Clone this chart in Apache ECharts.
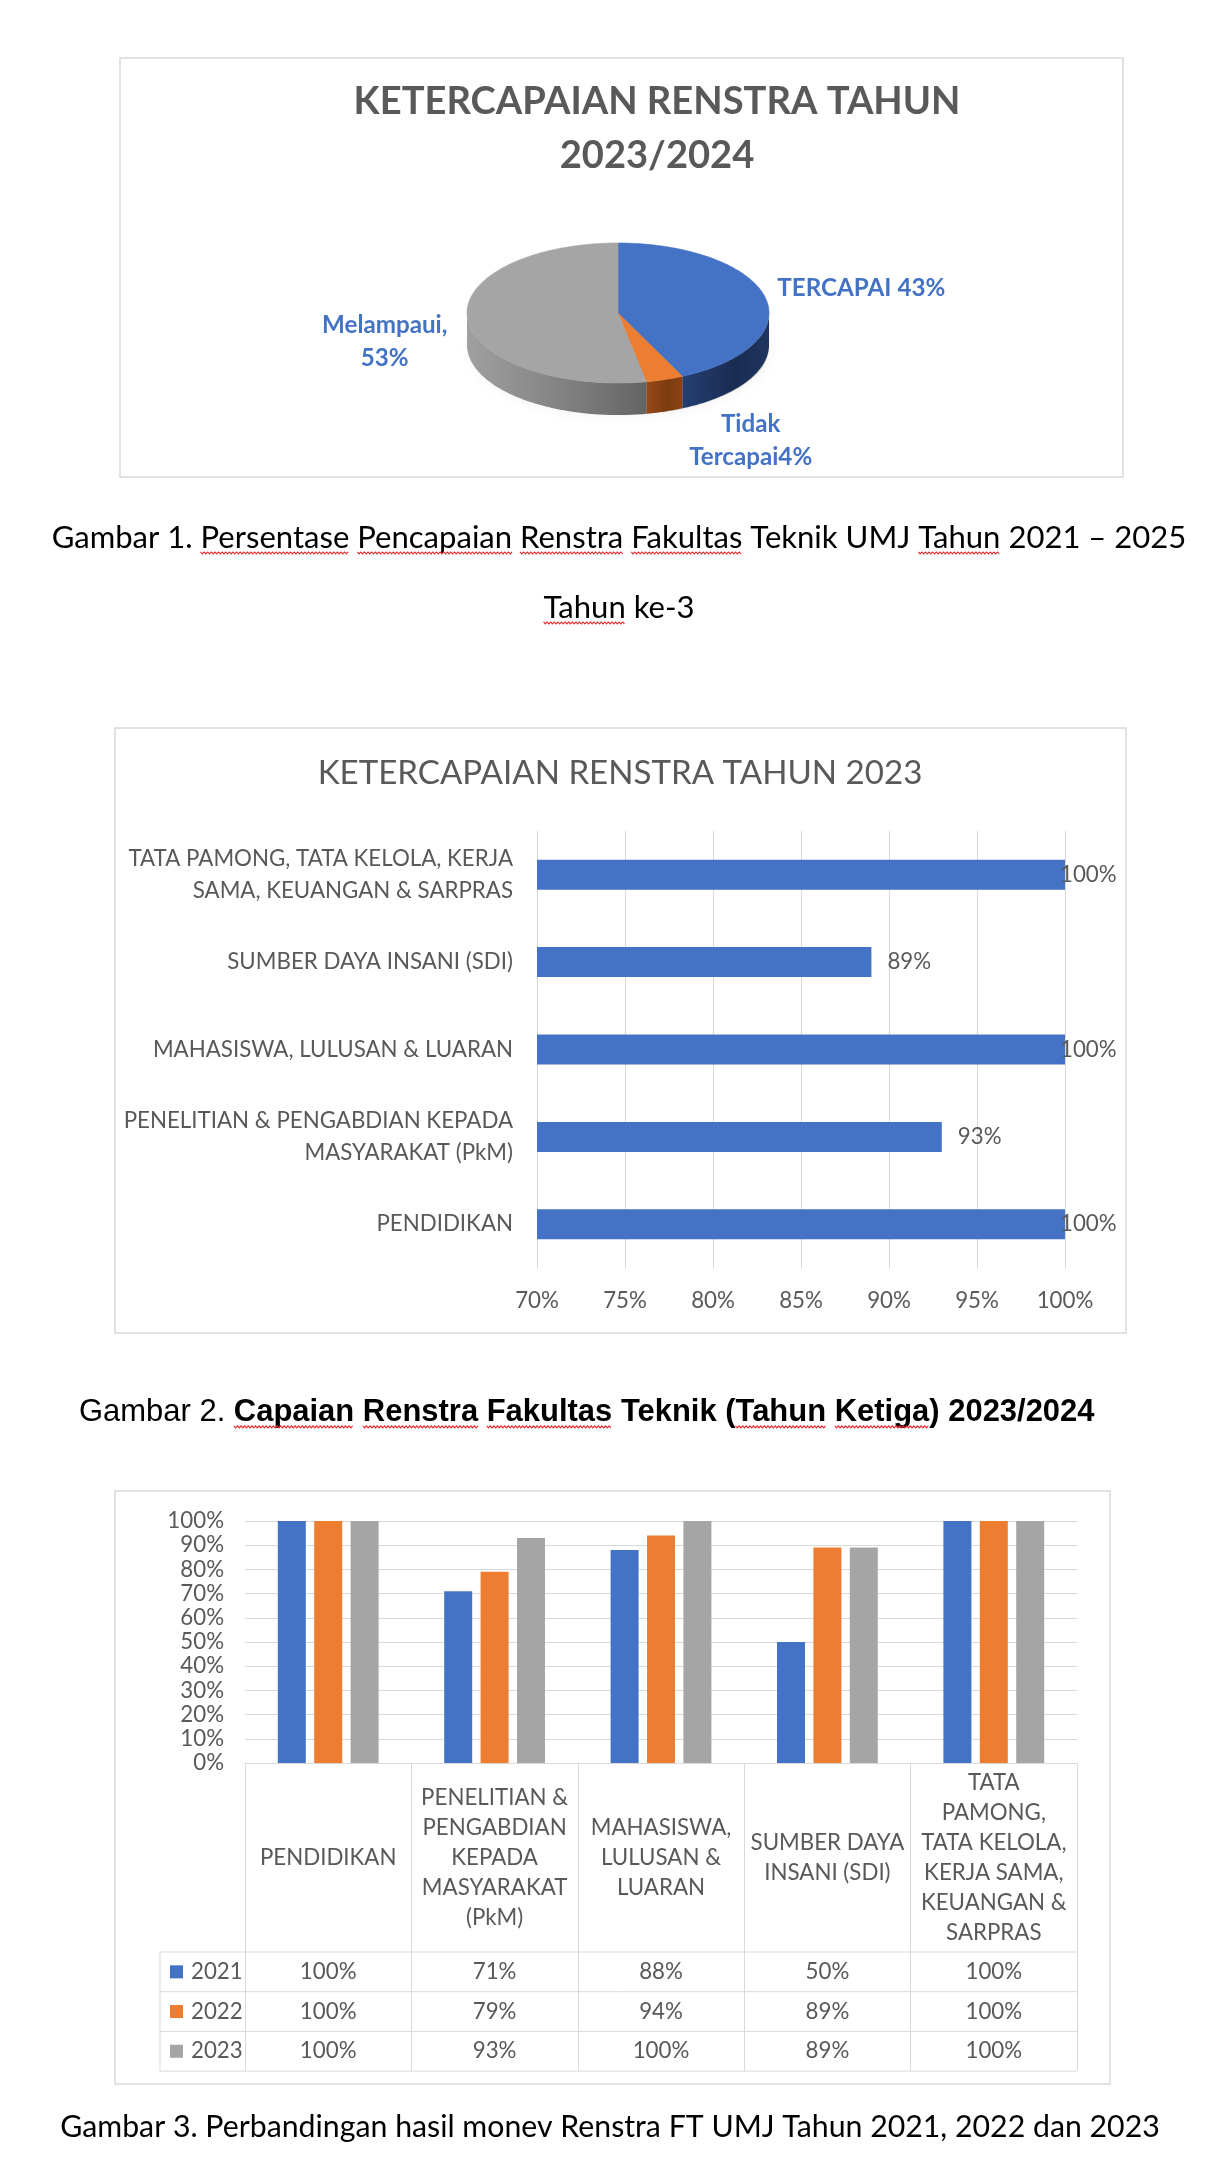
<!DOCTYPE html>
<html><head><meta charset="utf-8">
<script src="https://cdn.jsdelivr.net/npm/echarts@6.0.0/dist/echarts.min.js"></script>
<style>html,body{margin:0;padding:0;background:#fff}#c{width:1230px;height:2173px}</style>
</head><body><div id="c"></div>
<script>
// ---------------- DATA ----------------
const pieNames = ['TERCAPAI', 'Tidak Tercapai', 'Melampaui'];
const pieLabelNames = ['TERCAPAI', 'Tidak\nTercapai', 'Melampaui'];
const pieSep = [' ', '', ',\n'];
const pieValues = [43, 4, 53];

const categories = ['PENDIDIKAN', 'PENELITIAN & PENGABDIAN KEPADA MASYARAKAT (PkM)', 'MAHASISWA, LULUSAN & LUARAN', 'SUMBER DAYA INSANI (SDI)', 'TATA PAMONG, TATA KELOLA, KERJA SAMA, KEUANGAN & SARPRAS'];
const barCatLabels = ['PENDIDIKAN', 'PENELITIAN & PENGABDIAN KEPADA\nMASYARAKAT (PkM)', 'MAHASISWA, LULUSAN & LUARAN', 'SUMBER DAYA INSANI (SDI)', 'TATA PAMONG, TATA KELOLA, KERJA\nSAMA, KEUANGAN & SARPRAS'];
const tableCatLabels = ['PENDIDIKAN', 'PENELITIAN &\nPENGABDIAN\nKEPADA\nMASYARAKAT\n(PkM)', 'MAHASISWA,\nLULUSAN &\nLUARAN', 'SUMBER DAYA\nINSANI (SDI)', 'TATA\nPAMONG,\nTATA KELOLA,\nKERJA SAMA,\nKEUANGAN &\nSARPRAS'];
const years = ['2021', '2022', '2023'];
const values2021 = [100, 71, 88, 50, 100];
const values2022 = [100, 79, 94, 89, 100];
const values2023 = [100, 93, 100, 89, 100];
const barAxisMin = 70, barAxisMax = 100, barAxisStep = 5;
const colAxisMin = 0, colAxisMax = 100, colAxisStep = 10;

const title1 = 'KETERCAPAIAN RENSTRA TAHUN\n2023/2024';
const title2 = 'KETERCAPAIAN RENSTRA TAHUN 2023';
const caption1a = 'Gambar 1. Persentase Pencapaian Renstra Fakultas Teknik UMJ Tahun 2021 \u2013 2025';
const caption1b = 'Tahun ke-3';
const caption2a = 'Gambar 2. ';
const caption2b = 'Capaian Renstra Fakultas Teknik (Tahun Ketiga) 2023/2024';
const caption3 = 'Gambar 3. Perbandingan hasil monev Renstra FT UMJ Tahun 2021, 2022 dan 2023';

// ---------------- STYLE ----------------
const FONT = 'Lato';
const C_BLUE = '#4472C4', C_ORANGE = '#ED7D31', C_GRAY = '#A5A5A5';
const TXT = '#595959', LINE = '#d9d9d9';
const seriesColors = [C_BLUE, C_ORANGE, C_GRAY];

const mctx = document.createElement('canvas').getContext('2d');
function textW(t, size, fam, w) { mctx.font = (w || 'normal') + ' ' + size + 'px ' + fam; return mctx.measureText(t).width; }
function fit(t, target, fam, w) { return 100 * target / textW(t, 100, fam, w); }

const S_T1 = fit('KETERCAPAIAN RENSTRA TAHUN', 607, FONT, 'bold');
const S_PL = fit('TERCAPAI 43%', 168, FONT, 'bold');
const S_T2 = fit(title2, 605, FONT, 'normal');
const S_AX = fit('SUMBER DAYA INSANI (SDI)', 286, FONT, 'normal');
const S_C1 = fit(caption1a, 1135, FONT, 'normal');
const S_C3 = fit(caption3, 1100, FONT, 'normal');
const CAP2F = 'Liberation Sans';
const S_C2 = 100 * 1016 / (textW(caption2a, 100, CAP2F, 'normal') + textW(caption2b, 100, CAP2F, 'bold'));

// ---------------- PIE (3D look) ----------------
const PIE = { cx: 618, cy: 313, rx: 151, ry: 70, depth: 32 };
const pieSide = [['#243f73', '#1a2c52', '#1f3560'], ['#96491a', '#7c3b10', '#8a4314'], ['#a0a0a0', '#7e7e7e', '#646464']];
const pieLabelOffset = [[12, -10, 'left'], [86, 61, 'center'], [-83, 22, 'center']];
function ell(deg, dy) {
  const r = deg * Math.PI / 180;
  return [PIE.cx + PIE.rx * Math.sin(r), PIE.cy - PIE.ry * Math.cos(r) + dy];
}
function renderPie(params, api) {
  const i = params.dataIndex;
  const total = pieValues.reduce((a, b) => a + b, 0);
  let acc = 0; for (let k = 0; k < i; k++) acc += pieValues[k];
  const v = api.value(0);
  const a0 = acc / total * 360, a1 = (acc + v) / total * 360;
  const children = [];
  const s0 = Math.max(a0, 90), s1 = Math.min(a1, 270);
  if (s1 > s0) {
    const pts = [];
    for (let t = s0; t < s1; t += 1) pts.push(ell(t, 0));
    pts.push(ell(s1, 0));
    for (let t = s1; t > s0; t -= 1) pts.push(ell(t, PIE.depth));
    pts.push(ell(s0, PIE.depth));
    const sc = pieSide[i];
    // gray side runs right-to-left in angle order, gradient is in screen x
    children.push({ type: 'polygon', shape: { points: pts }, style: {
      fill: new echarts.graphic.LinearGradient(0, 0, 1, 0, [{ offset: 0, color: sc[0] }, { offset: 0.6, color: sc[1] }, { offset: 1, color: sc[2] }]) } });
  }
  const top = [[PIE.cx, PIE.cy]];
  for (let t = a0; t < a1; t += 1) top.push(ell(t, 0));
  top.push(ell(a1, 0));
  children.push({ type: 'polygon', shape: { points: top }, style: { fill: seriesColors[i], stroke: seriesColors[i], lineWidth: 0.6 } });
  const mid = (a0 + a1) / 2;
  const anc = ell(mid, 0);
  const o = pieLabelOffset[i];
  children.push({ type: 'text', style: {
    text: pieLabelNames[i] + pieSep[i] + v + '%', x: anc[0] + o[0], y: anc[1] + o[1],
    align: o[2], verticalAlign: 'middle', fill: C_BLUE, fontFamily: FONT, fontWeight: 'bold', fontSize: S_PL, lineHeight: 33 } });
  return { type: 'group', children };
}

// ---------------- CHART ----------------
const chart = echarts.init(document.getElementById('c'), null, { renderer: 'canvas' });
const G2 = { left: 537, top: 831, width: 528, height: 437 };
const G3 = { left: 245, top: 1521, width: 832, height: 242 };

const barData = values2023.map(v => v === barAxisMax ? { value: v, label: { offset: [-21, 0] } } : v);

chart.setOption({
  animation: false,
  textStyle: { fontFamily: FONT },
  grid: [
    { left: G2.left, top: G2.top, width: G2.width, height: G2.height },
    { left: G3.left, top: G3.top, width: G3.width, height: G3.height }
  ],
  xAxis: [
    { gridIndex: 0, type: 'value', min: barAxisMin, max: barAxisMax, interval: barAxisStep,
      axisLine: { show: false }, axisTick: { show: false },
      splitLine: { lineStyle: { color: LINE, width: 1 } },
      axisLabel: { formatter: '{value}%', color: TXT, fontSize: S_AX, margin: 22, fontFamily: FONT } },
    { gridIndex: 1, type: 'category', data: categories,
      axisLine: { show: true, lineStyle: { color: LINE, width: 1 } },
      axisTick: { show: true, interval: 0, length: 308, lineStyle: { color: LINE, width: 1 } },
      axisLabel: { interval: 0, formatter: (v, i) => tableCatLabels[i], color: TXT, fontSize: S_AX, lineHeight: 30,
        verticalAlign: 'middle', margin: 94.5, fontFamily: FONT } }
  ],
  yAxis: [
    { gridIndex: 0, type: 'category', data: categories,
      axisLine: { show: false }, axisTick: { show: false },
      axisLabel: { formatter: (v, i) => barCatLabels[i], color: TXT, fontSize: S_AX, lineHeight: 32, margin: 24, fontFamily: FONT } },
    { gridIndex: 1, type: 'value', min: colAxisMin, max: colAxisMax, interval: colAxisStep,
      axisLine: { show: false }, axisTick: { show: false },
      splitLine: { lineStyle: { color: LINE, width: 1 } },
      axisLabel: { formatter: '{value}%', color: TXT, fontSize: S_AX, margin: 21, fontFamily: FONT } }
  ],
  series: [
    { type: 'custom', coordinateSystem: 'none', renderItem: renderPie, data: pieValues.map((v, i) => ({ name: pieNames[i], value: [v] })), z: 3 },
    { type: 'bar', xAxisIndex: 0, yAxisIndex: 0, data: barData, barWidth: 30, itemStyle: { color: C_BLUE },
      label: { show: true, position: 'right', distance: 16, formatter: '{c}%', color: TXT, fontSize: S_AX, fontFamily: FONT } },
    { type: 'bar', name: years[0], xAxisIndex: 1, yAxisIndex: 1, data: values2021, barWidth: 28, barGap: '30%', itemStyle: { color: C_BLUE } },
    { type: 'bar', name: years[1], xAxisIndex: 1, yAxisIndex: 1, data: values2022, barWidth: 28, barGap: '30%', itemStyle: { color: C_ORANGE } },
    { type: 'bar', name: years[2], xAxisIndex: 1, yAxisIndex: 1, data: values2023, barWidth: 28, barGap: '30%', itemStyle: { color: C_GRAY } }
  ]
});

// ---------------- GRAPHICS (boxes, titles, captions, table) ----------------
const g = [];
function box(x0, y0, x1, y1) { g.push({ type: 'rect', shape: { x: x0, y: y0, width: x1 - x0, height: y1 - y0 }, style: { fill: 'none', stroke: LINE, lineWidth: 1.5 }, z: 1 }); }
function txt(t, x, y, size, opts) {
  g.push({ type: 'text', z: 5, style: Object.assign({ text: t, x, y, fontSize: size, fontFamily: FONT, fill: '#000', align: 'center', verticalAlign: 'middle' }, opts || {}) });
}
function squiggle(x0, w, y) {
  const pts = []; let k = 0;
  for (let x = x0; x <= x0 + w; x += 1.8, k++) pts.push([x, y + (k % 2 ? 2 : 0)]);
  g.push({ type: 'polyline', z: 5, shape: { points: pts }, style: { stroke: '#e8262b', lineWidth: 1.1, fill: null } });
}
function underline(text, words, xStart, y, size, fam, weight) {
  let from = 0;
  words.forEach(w => {
    const idx = text.indexOf(w, from); from = idx + w.length;
    squiggle(xStart + textW(text.slice(0, idx), size, fam, weight), textW(w, size, fam, weight), y);
  });
}

box(120, 58, 1123, 477);
box(115, 728, 1126, 1333);
box(115, 1491, 1110, 2084);

// pie shadow
g.push({ type: 'ellipse', z: 1, shape: { cx: PIE.cx + 2, cy: PIE.cy + PIE.depth + 2, rx: PIE.rx - 2, ry: PIE.ry - 2 },
  style: { fill: 'rgba(0,0,0,0.18)', shadowBlur: 14, shadowColor: 'rgba(0,0,0,0.35)' } });

txt(title1, 657, 129, S_T1, { fill: TXT, fontWeight: 'bold', lineHeight: 54 });
txt(title2, 620, 773, S_T2, { fill: TXT });

// captions
txt(caption1a, 619, 538, S_C1);
underline(caption1a, ['Persentase', 'Pencapaian', 'Renstra', 'Fakultas', 'Tahun'], 619 - textW(caption1a, S_C1, FONT) / 2, 538 + 0.45 * S_C1, S_C1, FONT, 'normal');
txt(caption1b, 619, 608, S_C1);
underline(caption1b, ['Tahun'], 619 - textW(caption1b, S_C1, FONT) / 2, 608 + 0.45 * S_C1, S_C1, FONT, 'normal');

const c2x = 79, c2w1 = textW(caption2a, S_C2, CAP2F, 'normal');
txt(caption2a, c2x, 1412, S_C2, { align: 'left', fontFamily: CAP2F });
txt(caption2b, c2x + c2w1, 1412, S_C2, { align: 'left', fontFamily: CAP2F, fontWeight: 'bold' });
underline(caption2b, ['Capaian', 'Renstra', 'Fakultas', 'Tahun', 'Ketiga'], c2x + c2w1, 1412 + 0.45 * S_C2, S_C2, CAP2F, 'bold');

txt(caption3, 610, 2127, S_C3);

// data table under column chart
const axisY = G3.top + G3.height;
const headH = 189, rowH = 39.7, tableLeft = 160;
const rowTop = axisY + headH;
const gridRight = G3.left + G3.width;
for (let r = 0; r <= years.length; r++) {
  const y = rowTop + r * rowH;
  g.push({ type: 'line', z: 1, shape: { x1: tableLeft, y1: y, x2: gridRight, y2: y }, style: { stroke: LINE, lineWidth: 1 } });
}
g.push({ type: 'line', z: 1, shape: { x1: tableLeft, y1: rowTop, x2: tableLeft, y2: rowTop + years.length * rowH }, style: { stroke: LINE, lineWidth: 1 } });
const allVals = [values2021, values2022, values2023];
years.forEach((yr, r) => {
  const cy = rowTop + (r + 0.5) * rowH;
  g.push({ type: 'rect', z: 5, shape: { x: 170, y: cy - 6.5, width: 13, height: 13 }, style: { fill: seriesColors[r] } });
  txt(yr, 191, cy, S_AX, { align: 'left', fill: TXT });
  allVals[r].forEach((v, j) => {
    const cx = chart.convertToPixel({ xAxisIndex: 1 }, j);
    txt(v + '%', cx, cy, S_AX, { fill: TXT });
  });
});

chart.setOption({ graphic: { elements: g } });
</script>
</body></html>
